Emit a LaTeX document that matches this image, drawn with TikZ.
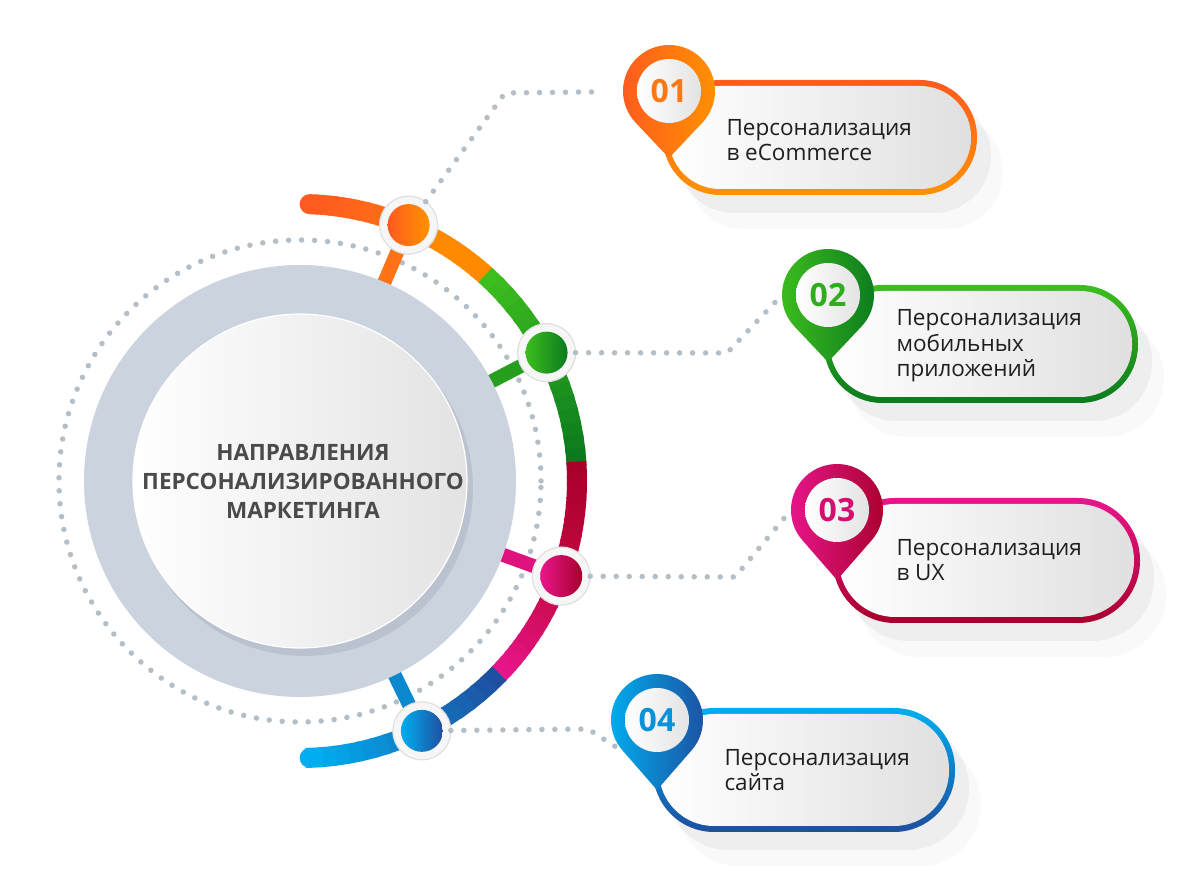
\documentclass[tikz,border=0pt]{standalone}
\usepackage{fontspec}
\setmainfont{Open Sans}
\usepackage{tikz}
\usetikzlibrary{calc,positioning}
\definecolor{naranja}{HTML}{FF5A1F}
\definecolor{naranjaMedio}{HTML}{FF7216}
\definecolor{naranjaClaro}{HTML}{FF9300}
\definecolor{arcoNaranja}{HTML}{FF8A00}
\definecolor{verde}{HTML}{3DBE1E}
\definecolor{verdeOscuro}{HTML}{0B7A1E}
\definecolor{rosa}{HTML}{E8168C}
\definecolor{granate}{HTML}{A8002B}
\definecolor{granateMedio}{HTML}{C3083F}
\definecolor{celeste}{HTML}{00AEEF}
\definecolor{azul}{HTML}{1E4FA0}
\definecolor{grisPunto}{HTML}{B3BEC6}
\definecolor{grisAnillo}{HTML}{CBD3DF}
\definecolor{grisSombra}{HTML}{B4BCC9}
\definecolor{grisTexto}{HTML}{4A4A4A}
\definecolor{grisFondo}{HTML}{E0E0E0}
\tikzstyle{dots}  =[grisPunto, line width=5.5pt, line cap=round,
                    dash pattern=on 0pt off 13pt]
\tikzstyle{spoke} =[line width=14pt]
\tikzstyle{marker}=[circle, minimum size=58pt, inner sep=0pt,
                    outer sep=0pt, fill=white!93!gray,
                    draw=gray!25, line width=1.2pt]
\tikzstyle{pin}   =[circle, minimum size=92pt, inner sep=0pt,
                    outer sep=0pt]
\tikzstyle{num}   =[font=\fontsize{32}{32}\selectfont\bfseries]
\tikzstyle{cardtext}=[anchor=west, align=left, text=black!88,
                    font=\fontsize{22.5}{25.5}\selectfont]
\tikzstyle{titulo}=[align=center, text=grisTexto,
                    font=\fontsize{22.5}{29}\selectfont\bfseries]

\begin{document}
\begin{tikzpicture}[x=1pt,y=1pt]
    \useasboundingbox (0,0) rectangle (1200,883);
    \coordinate (C) at (300,402);
    \coordinate (q1) at ($(C)+(67:278)$);
    \coordinate (q2) at ($(C)+(27.5:278)$);
    \coordinate (q3) at ($(C)+(-20:278)$);
    \coordinate (q4) at ($(C)+(-64:278)$);

    % dotted ring
    \draw[dots] (C) circle[radius=241];

    % spokes
    \foreach \i/\a/\c in {1/67/naranjaMedio,2/27.5/verde!55!verdeOscuro,3/-20/rosa!85!granate,4/-64/celeste!60!azul}
        \draw[spoke, color=\c] ($(C)+(\a:200)$) -- (q\i);

    % central disc
    \fill[grisAnillo] (C) circle[radius=216];
    \fill[grisSombra, opacity=0.7] ($(C)+(5,-7)$) circle[radius=168];
    \shade[left color=white, right color=gray!22] (C) circle[radius=167];
    \draw[white, line width=1.2pt] (C) circle[radius=167];
    \node[titulo] (tit) at ($(C)+(3,0)$) {НАПРАВЛЕНИЯ\\ПЕРСОНАЛИЗИРОВАННОГО\\МАРКЕТИНГА};

    % coloured arc
    \foreach \ai/\af/\ci/\cf in {88/67/naranja/naranjaMedio, 67/48/arcoNaranja/arcoNaranja,
        48/4/verde/verdeOscuro, 4/-20/granate/granateMedio, -20/-44/granateMedio/rosa,
        -44/-88/azul/celeste}
        \foreach \k in {0,...,15} {
            \pgfmathsetmacro{\ta}{\ai+(\af-\ai)*\k/16}
            \pgfmathsetmacro{\tb}{\ai+(\af-\ai)*(\k+1.3)/16}
            \pgfmathtruncatemacro{\p}{100*\k/15}
            \draw[line width=20pt, color=\cf!\p!\ci] ($(C)+(\ta:277)$) arc[start angle=\ta, end angle=\tb, radius=277];
        }
    \fill[naranja] ($(C)+(88:277)$) circle[radius=10];
    \fill[celeste] ($(C)+(-88:277)$) circle[radius=10];

    % markers
    \foreach \i/\ca/\cb in {1/naranja/naranjaClaro,2/verde/verdeOscuro,3/rosa/granate,4/celeste/azul} {
        \node[marker] (m\i) at (q\i) {};
        \shade[left color=\ca, right color=\cb] (q\i) circle[radius=21];
    }

    %card 01
    \begin{scope}[shift={(669,792)}]
        \fill[black, opacity=0.045, rounded corners=57] (8,-122) rectangle (322,-8);
        \fill[black, opacity=0.025, rounded corners=57] (18,-138) rectangle (334,-24);
        \shade[top color=naranja, bottom color=naranjaClaro, rounded corners=57] (-6,-104) rectangle (308,11);
        \shade[left color=white, right color=grisFondo, rounded corners=51] (0,-98) rectangle (302,5);
        \shade[left color=naranja, right color=naranjaClaro] (0,-67) -- (-43.4:46) arc[start angle=-43.4, end angle=223.4, radius=46] -- cycle;
        \node[pin] (p1) at (0,0) {};
        \shade[left color=white, right color=gray!22] (0,0) circle[radius=32];
        \node[num, text=naranja!50!naranjaClaro] (n1) at (0,0) {01};
        \node[cardtext] (t1) at (54,-49) {Персонализация\\в eCommerce};
    \end{scope}

    %card 02
    \begin{scope}[shift={(828,588)}]
        \fill[black, opacity=0.045, rounded corners=58] (10,-126) rectangle (324,-8);
        \fill[black, opacity=0.025, rounded corners=58] (20,-142) rectangle (336,-24);
        \shade[top color=verde, bottom color=verdeOscuro, rounded corners=58] (-4,-108) rectangle (310,10);
        \shade[left color=white, right color=grisFondo, rounded corners=52] (2,-102) rectangle (304,4);
        \shade[left color=verde, right color=verdeOscuro] (0,-67) -- (-43.4:46) arc[start angle=-43.4, end angle=223.4, radius=46] -- cycle;
        \node[pin] (p2) at (0,0) {};
        \shade[left color=white, right color=gray!22] (0,0) circle[radius=32];
        \node[num, text=verde!75!verdeOscuro] (n2) at (0,0) {02};
        \node[cardtext] (t2) at (65,-51) {Персонализация\\мобильных\\приложений};
    \end{scope}

    %card 03
    \begin{scope}[shift={(837,373)}]
        \fill[black, opacity=0.045, rounded corners=62] (10,-131) rectangle (317,-6);
        \fill[black, opacity=0.025, rounded corners=62] (20,-147) rectangle (329,-22);
        \shade[top color=rosa, bottom color=granate, rounded corners=62] (-4,-113) rectangle (303,12);
        \shade[left color=white, right color=grisFondo, rounded corners=56] (2,-107) rectangle (297,6);
        \shade[left color=rosa, right color=granate] (0,-70) -- (-41:46) arc[start angle=-41, end angle=221, radius=46] -- cycle;
        \node[pin] (p3) at (0,0) {};
        \shade[left color=white, right color=gray!22] (0,0) circle[radius=32];
        \node[num, text=rosa!70!granate] (n3) at (0,0) {03};
        \node[cardtext] (t3) at (56,-50) {Персонализация\\в UX};
    \end{scope}

    %card 04
    \begin{scope}[shift={(657,163)}]
        \fill[black, opacity=0.045, rounded corners=61] (10,-130) rectangle (312,-6);
        \fill[black, opacity=0.025, rounded corners=61] (20,-146) rectangle (324,-22);
        \shade[top color=celeste, bottom color=azul, rounded corners=61] (-4,-112) rectangle (298,12);
        \shade[left color=white, right color=grisFondo, rounded corners=55] (2,-106) rectangle (292,6);
        \shade[left color=celeste, right color=azul] (0,-70) -- (-41:46) arc[start angle=-41, end angle=221, radius=46] -- cycle;
        \node[pin] (p4) at (0,0) {};
        \shade[left color=white, right color=gray!22] (0,0) circle[radius=32];
        \node[num, text=celeste!70!azul] (n4) at (0,0) {04};
        \node[cardtext] (t4) at (64,-50) {Персонализация\\сайта};
    \end{scope}

    % connectors
    \coordinate (b1) at (505,790);
    \coordinate (b2) at (727,530);
    \coordinate (b3) at (735,306);
    \coordinate (b4) at (588,154);
    \draw[dots, shorten >=22pt] (m1) -- (b1) -- (p1);
    \draw[dots] (m2) -- (b2) -- (p2.west);
    \draw[dots] (m3) -- (b3) -- (p3.west);
    \draw[dots] (m4) -- (b4) -- (p4.225);
\end{tikzpicture}
\end{document}
